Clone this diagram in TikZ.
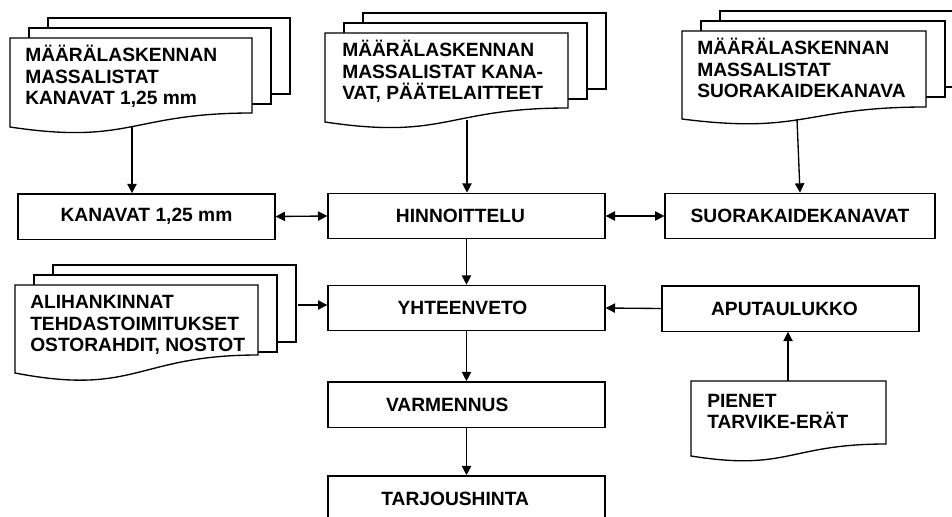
\documentclass[tikz,border=0pt]{standalone}
\usepackage{fontspec}
\setmainfont{Liberation Sans}
\usepackage{tikz}
\usetikzlibrary{positioning, arrows.meta, calc}

\tikzset{
  box/.style={draw, line width=1pt, minimum width=207.75pt, minimum height=34pt,
              inner sep=0pt, font=\bfseries\fontsize{14.4}{16}\selectfont},
  page/.style={draw, fill=white, line width=1pt},
  doctext/.style={align=left, inner sep=0pt, anchor=base west,
                  font=\bfseries\fontsize{14.4}{16}\selectfont},
  arr/.style={line width=1pt, -{Triangle[length=7pt, width=7pt]}},
  twoway/.style={line width=1pt, {Triangle[length=7pt, width=7pt]}-{Triangle[length=7pt, width=7pt]}}
}

% page with wavy bottom: x, y, width, right height, left height
\newcommand{\wavepage}[5]{%
  \draw[page] (#1,#2) -- ({#1+#3},#2) -- ({#1+#3},{#2+#4})
    .. controls ({#1+0.5*#3},{#2+#4}) and ({#1+0.5*#3},{#2+#5+1.3*(#5-#4)}) .. (#1,{#2+#5}) -- cycle;}
% three pages: x, y, width, right height, left height, back height
\newcommand{\pagestack}[6]{%
  \draw[page] ({#1+38},{#2-20}) rectangle ++(#3,#6);
  \draw[page] ({#1+19},{#2-10}) rectangle ++(#3,#6);
  \wavepage{#1}{#2}{#3}{#4}{#5}}

\begin{document}
\begin{tikzpicture}[x=0.75pt, y=-0.75pt]
    \useasboundingbox (0,0) rectangle (952,517);

    % documents (text placed at baseline of last line)
    \pagestack{10}{38}{242}{75}{89}{76}
    \node[doctext] (lista1) at (25,104.5) {MÄÄRÄLASKENNAN\\MASSALISTAT\\KANAVAT 1,25 mm};
    \pagestack{325}{33}{243}{75}{89}{76}
    \node[doctext] (lista2) at (342,99.5) {MÄÄRÄLASKENNAN\\MASSALISTAT KANA-\\VAT, PÄÄTELAITTEET};
    \pagestack{682}{31}{244}{76}{88}{76}
    \node[doctext] (lista3) at (697,97.5) {MÄÄRÄLASKENNAN\\MASSALISTAT\\SUORAKAIDEKANAVA};
    \pagestack{15}{285}{243}{70}{88}{77}
    \node[doctext] (alihank) at (30,351.5) {ALIHANKINNAT\\TEHDASTOIMITUKSET\\OSTORAHDIT, NOSTOT};
    \wavepage{691}{381}{195}{63}{75}
    \node[doctext] (pienet) at (707,428.5) {PIENET\\TARVIKE-ERÄT};

    % boxes
    \node[box, minimum width=192.75pt] (kanavat) at (146.5,216.5) {KANAVAT 1,25 mm};
    \node[box] (hinnoittelu) at (466.5,216) {HINNOITTELU\hspace*{9pt}};
    \node[box, minimum width=202.5pt] (suorakaide) at (800,216) {SUORAKAIDEKANAVAT};
    \node[box] (yhteenveto) at (466.5,308) {YHTEENVETO\hspace*{6pt}};
    \node[box, minimum width=192.75pt] (aputaulukko) at (790.5,308.5) {APUTAULUKKO\hspace*{9pt}};
    \node[box] (varmennus) at (466.5,404.5) {VARMENNUS\hspace*{29pt}};
    \node[box] (tarjous) at (466.5,498.5) {TARJOUSHINTA\hspace*{17pt}};

    % connectors
    \coordinate (d1) at (132,127);
    \coordinate (d2) at (467,120);
    \coordinate (d3) at (797,119);
    \coordinate (d4) at (298,305);
    \coordinate (d5) at (788,381);
    \draw[arr] (d1) -- (d1 |- kanavat.north);
    \draw[arr] (d2) -- (d2 |- hinnoittelu.north);
    \draw[arr] (d3) -- (suorakaide.north);
    \draw[twoway] (kanavat.east) -- (hinnoittelu.west);
    \draw[twoway] (hinnoittelu.east) -- (suorakaide.west);
    \draw[arr] (hinnoittelu) -- (yhteenveto);
    \draw[arr] (d4) -- (d4 -| yhteenveto.west);
    \draw[arr] (aputaulukko.west) -- (yhteenveto.east);
    \draw[arr] (yhteenveto) -- (varmennus);
    \draw[arr] (varmennus) -- (tarjous);
    \draw[arr] (d5) -- (d5 |- aputaulukko.south);
\end{tikzpicture}
\end{document}
